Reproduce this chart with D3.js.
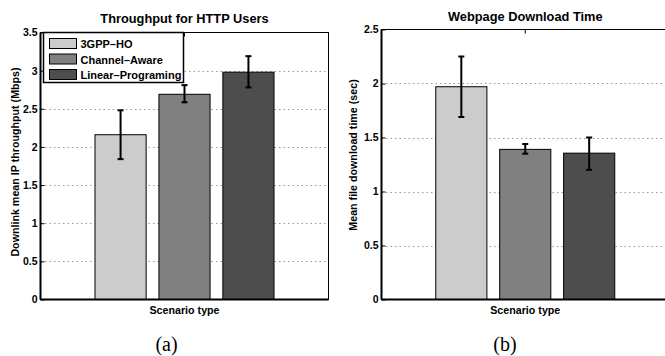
<!DOCTYPE html>
<html>
<head>
<meta charset="utf-8">
<script src="https://cdn.jsdelivr.net/npm/d3@7"></script>
<style>
  body { margin: 0; background: #fff; }
  text { font-family: "Liberation Sans", Arial, sans-serif; font-weight: bold; }
  .cap { font-family: "Liberation Serif", "Times New Roman", serif; font-weight: normal; }
</style>
</head>
<body>
<div id="chart"></div>
<script>
var scenarios = ["3GPP-HO", "Channel-Aware", "Linear-Programing"];
var colors = ["#cccccc", "#808080", "#4d4d4d"];

// panel (a): throughput, Mbps
var thrMean = [2.16, 2.69, 2.98];
var thrLow  = [1.84, 2.585, 2.78];
var thrHigh = [2.48, 2.81, 3.19];
var thrTicks = [0, 0.5, 1, 1.5, 2, 2.5, 3, 3.5];

// panel (b): download time, sec
var dlMean = [1.97, 1.39, 1.355];
var dlLow  = [1.69, 1.35, 1.20];
var dlHigh = [2.25, 1.44, 1.50];
var dlTicks = [0, 0.5, 1, 1.5, 2, 2.5];

var W = 665, H = 356;

var svg = d3.select("#chart").append("svg")
    .attr("width", W)
    .attr("height", H);

function panel(opt) {
    var x0 = opt.left, x1 = opt.right, y0 = 299.5, y1 = opt.top;

    var y = d3.scaleLinear().domain([0, opt.max]).range([y0, y1]);
    var cx = (x0 + x1) / 2;
    var x = d3.scaleBand()
        .domain(scenarios)
        .range([cx - 89.5, cx + 89.5])
        .paddingInner(0.2)
        .paddingOuter(0);

    var g = svg.append("g");

    g.append("rect")
        .attr("x", x0).attr("y", y1)
        .attr("width", x1 - x0).attr("height", y0 - y1)
        .attr("fill", "#fff");

    // dotted grid
    g.selectAll(".grid")
        .data(opt.ticks.filter(function(d) { return d > 0 && d < opt.max; }))
        .enter().append("line")
        .attr("x1", x0).attr("x2", x1)
        .attr("y1", function(d) { return Math.round(y(d)) + 0.5; })
        .attr("y2", function(d) { return Math.round(y(d)) + 0.5; })
        .attr("stroke", "#999")
        .attr("stroke-width", 1)
        .attr("stroke-dasharray", "1.5,3");

    // bars
    g.selectAll(".bar")
        .data(opt.mean)
        .enter().append("rect")
        .attr("x", function(d, i) { return x(scenarios[i]); })
        .attr("y", function(d) { return y(d); })
        .attr("width", x.bandwidth())
        .attr("height", function(d) { return y0 - y(d); })
        .attr("fill", function(d, i) { return colors[i]; })
        .attr("stroke", "#000")
        .attr("stroke-width", 1);

    // error bars
    var eb = g.selectAll(".err")
        .data(opt.mean)
        .enter().append("g")
        .attr("stroke", "#000")
        .attr("stroke-width", 2);
    var mid = function(i) { return x(scenarios[i]) + x.bandwidth() / 2; };
    eb.append("line")
        .attr("x1", function(d, i) { return mid(i); })
        .attr("x2", function(d, i) { return mid(i); })
        .attr("y1", function(d, i) { return y(opt.low[i]); })
        .attr("y2", function(d, i) { return y(opt.high[i]); });
    eb.append("line")
        .attr("x1", function(d, i) { return mid(i) - 3; })
        .attr("x2", function(d, i) { return mid(i) + 3; })
        .attr("y1", function(d, i) { return y(opt.low[i]); })
        .attr("y2", function(d, i) { return y(opt.low[i]); });
    eb.append("line")
        .attr("x1", function(d, i) { return mid(i) - 3; })
        .attr("x2", function(d, i) { return mid(i) + 3; })
        .attr("y1", function(d, i) { return y(opt.high[i]); })
        .attr("y2", function(d, i) { return y(opt.high[i]); });

    // frame
    g.append("rect")
        .attr("x", x0).attr("y", y1)
        .attr("width", x1 - x0).attr("height", y0 - y1)
        .attr("fill", "none")
        .attr("stroke", "#000")
        .attr("stroke-width", 1);
    g.append("line")
        .attr("x1", x0).attr("x2", x1)
        .attr("y1", y0).attr("y2", y0)
        .attr("stroke", "#000").attr("stroke-width", 2);
    g.append("line")
        .attr("x1", x0).attr("x2", x0)
        .attr("y1", y1).attr("y2", y0)
        .attr("stroke", "#000").attr("stroke-width", 2);
    g.append("line")
        .attr("x1", cx).attr("x2", cx)
        .attr("y1", y1).attr("y2", y1 + 4)
        .attr("stroke", "#000");

    // y axis
    var yAxis = d3.axisLeft(y)
        .tickValues(opt.ticks)
        .tickSize(-4)
        .tickPadding(3)
        .tickFormat(function(d) { return d; });
    var ax = g.append("g")
        .attr("transform", "translate(" + x0 + ",0)")
        .call(yAxis);
    ax.select(".domain").remove();
    ax.selectAll("text")
        .style("font-size", "10.5px")
        .style("font-family", "Liberation Sans, Arial, sans-serif")
        .style("font-weight", "bold");

    // titles
    g.append("text")
        .attr("x", cx).attr("y", opt.titleY)
        .attr("text-anchor", "middle")
        .style("font-size", "12.8px")
        .text(opt.title);

    g.append("text")
        .attr("x", cx).attr("y", 314)
        .attr("text-anchor", "middle")
        .style("font-size", "10.7px")
        .text("Scenario type");

    g.append("text")
        .attr("transform", "translate(" + opt.ylabX + "," + opt.ylabY + ") rotate(-90)")
        .attr("text-anchor", "middle")
        .style("font-size", "10.7px")
        .text(opt.ylab);

    g.append("text")
        .attr("class", "cap")
        .attr("x", opt.capX).attr("y", 351)
        .attr("text-anchor", "middle")
        .style("font-size", "20px")
        .text(opt.cap);
}

panel({
    left: 40.5, right: 328.5, top: 32.5, max: 3.5, ticks: thrTicks,
    mean: thrMean, low: thrLow, high: thrHigh,
    title: "Throughput for HTTP Users", titleY: 23,
    ylab: "Downlink mean IP throughput (Mbps)", ylabX: 19, ylabY: 162,
    cap: "(a)", capX: 166.5
});

panel({
    left: 381.5, right: 669, top: 29.5, max: 2.5, ticks: dlTicks,
    mean: dlMean, low: dlLow, high: dlHigh,
    title: "Webpage Download Time", titleY: 21,
    ylab: "Mean file download time (sec)", ylabX: 357, ylabY: 155,
    cap: "(b)", capX: 505
});

// legend on panel (a)
var legend = svg.append("g").attr("transform", "translate(43.5,32.5)");
legend.append("rect")
    .attr("width", 140).attr("height", 50)
    .attr("fill", "#fff")
    .attr("stroke", "#000")
    .attr("stroke-width", 1.5);
var items = legend.selectAll(".item")
    .data(scenarios)
    .enter().append("g")
    .attr("transform", function(d, i) { return "translate(6," + (6 + i * 15.5) + ")"; });
items.append("rect")
    .attr("width", 27).attr("height", 10)
    .attr("fill", function(d, i) { return colors[i]; })
    .attr("stroke", "#000");
items.append("text")
    .attr("x", 31).attr("y", 9.5)
    .style("font-size", "11px")
    .text(function(d) { return d.replace("-", "\u2013"); });
</script>
</body>
</html>
